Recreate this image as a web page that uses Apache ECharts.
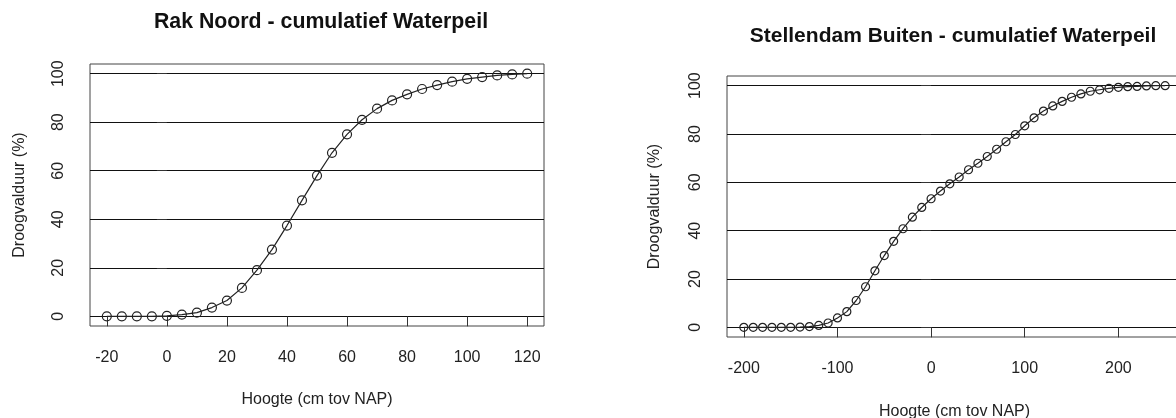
<!DOCTYPE html>
<html>
<head>
<meta charset="utf-8">
<title>cumulatief Waterpeil</title>
<script src="https://cdn.jsdelivr.net/npm/echarts@6/dist/echarts.min.js"></script>
<style>
  html, body { margin: 0; padding: 0; background: #fff; }
  #chart { width: 1176px; height: 418px; }
</style>
</head>
<body>
<div id="chart"></div>
<script>
// Rak Noord: hoogte (cm tov NAP) en droogvalduur (%)
var rakX = [-20, -15, -10, -5, 0, 5, 10, 15, 20, 25, 30, 35, 40, 45, 50, 55, 60, 65, 70, 75, 80, 85, 90, 95, 100, 105, 110, 115, 120];
var rakY = [0, 0, 0, 0, 0.2, 0.7, 1.5, 3.6, 6.5, 11.7, 19, 27.5, 37.4, 47.8, 58, 67.4, 75, 81, 85.6, 89, 91.5, 93.7, 95.3, 96.7, 97.9, 98.6, 99.3, 99.7, 100];

// Stellendam Buiten
var stelX = [-200, -190, -180, -170, -160, -150, -140, -130, -120, -110, -100, -90, -80, -70, -60, -50, -40, -30, -20, -10,
             0, 10, 20, 30, 40, 50, 60, 70, 80, 90, 100, 110, 120, 130, 140, 150, 160, 170, 180, 190, 200, 210, 220, 230, 240, 250];
var stelY = [0, 0, 0, 0, 0, 0, 0.1, 0.3, 0.8, 1.8, 3.9, 6.5, 11.1, 16.8, 23.4, 29.7, 35.6, 40.8, 45.6, 49.6,
             53.2, 56.4, 59.4, 62.2, 65.2, 67.9, 70.7, 73.7, 76.8, 79.8, 83.4, 86.7, 89.5, 91.6, 93.5, 95.2, 96.6, 97.7, 98.3, 98.9,
             99.3, 99.6, 99.7, 99.9, 100, 100];

var rakTicks = [-20, 0, 20, 40, 60, 80, 100, 120];
var stelTicks = [-200, -100, 0, 100, 200];
var yTicks = [0, 20, 40, 60, 80, 100];

function pairs(xs, ys) {
    return xs.map(function(x, i) { return [x, ys[i]]; });
}

var font = 'Liberation Sans, Arial, sans-serif';
var txt = '#222';

function xAxisFor(idx, min, max, ticks, gap) {
    return {
        gridIndex: idx,
        type: 'value',
        min: min,
        max: max,
        name: 'Hoogte (cm tov NAP)',
        nameLocation: 'middle',
        nameGap: gap,
        nameTextStyle: { color: txt, fontSize: 16, fontFamily: font },
        axisLine: { show: false },
        axisTick: { show: true, length: 10, customValues: ticks, lineStyle: { color: '#333', width: 1 } },
        axisLabel: { customValues: ticks, margin: 24, color: txt, fontSize: 16, fontFamily: font },
        splitLine: { show: false }
    };
}

function yAxisFor(idx, gap) {
    return {
        gridIndex: idx,
        type: 'value',
        min: -4,
        max: 104,
        name: 'Droogvalduur (%)',
        nameLocation: 'middle',
        nameGap: gap,
        nameRotate: 90,
        nameTextStyle: { color: txt, fontSize: 16, fontFamily: font },
        axisLine: { show: false },
        axisTick: { show: true, length: 10, customValues: yTicks, lineStyle: { color: '#333', width: 1 } },
        axisLabel: { customValues: yTicks, rotate: 90, margin: 23, color: txt, fontSize: 16, fontFamily: font },
        splitLine: { show: true, lineStyle: { color: '#111', width: 1 } }
    };
}

function lineSeries(idx, data, size) {
    return {
        type: 'line',
        xAxisIndex: idx,
        yAxisIndex: idx,
        data: data,
        symbol: 'circle',
        symbolSize: size,
        silent: true,
        animation: false,
        lineStyle: { color: '#222', width: 1.2 },
        itemStyle: { color: 'rgba(0,0,0,0)', borderColor: '#222', borderWidth: 1.2 }
    };
}

var myChart = echarts.init(document.getElementById('chart'));
var option = {
    backgroundColor: '#fff',
    animation: false,
    title: [
        {
            text: 'Rak Noord - cumulatief Waterpeil',
            left: 321, top: 12, textAlign: 'center', padding: 0,
            textStyle: { fontSize: 21.3, fontWeight: 'bold', color: '#111', fontFamily: font }
        },
        {
            text: 'Stellendam Buiten - cumulatief Waterpeil',
            left: 953, top: 26, textAlign: 'center', padding: 0,
            textStyle: { fontSize: 21, fontWeight: 'bold', color: '#111', fontFamily: font }
        }
    ],
    grid: [
        { left: 90, top: 64, width: 454, height: 262, outerBoundsMode: 'none', show: true, borderColor: '#444', borderWidth: 1, backgroundColor: 'transparent' },
        { left: 727, top: 76, width: 455, height: 261, outerBoundsMode: 'none', show: true, borderColor: '#444', borderWidth: 1, backgroundColor: 'transparent' }
    ],
    xAxis: [
        xAxisFor(0, -25.6, 125.6, rakTicks, 66),
        xAxisFor(1, -218, 268, stelTicks, 67)
    ],
    yAxis: [
        yAxisFor(0, 62),
        yAxisFor(1, 64)
    ],
    series: [
        lineSeries(0, pairs(rakX, rakY), 9),
        lineSeries(1, pairs(stelX, stelY), 8)
    ]
};
myChart.setOption(option);
</script>
</body>
</html>
